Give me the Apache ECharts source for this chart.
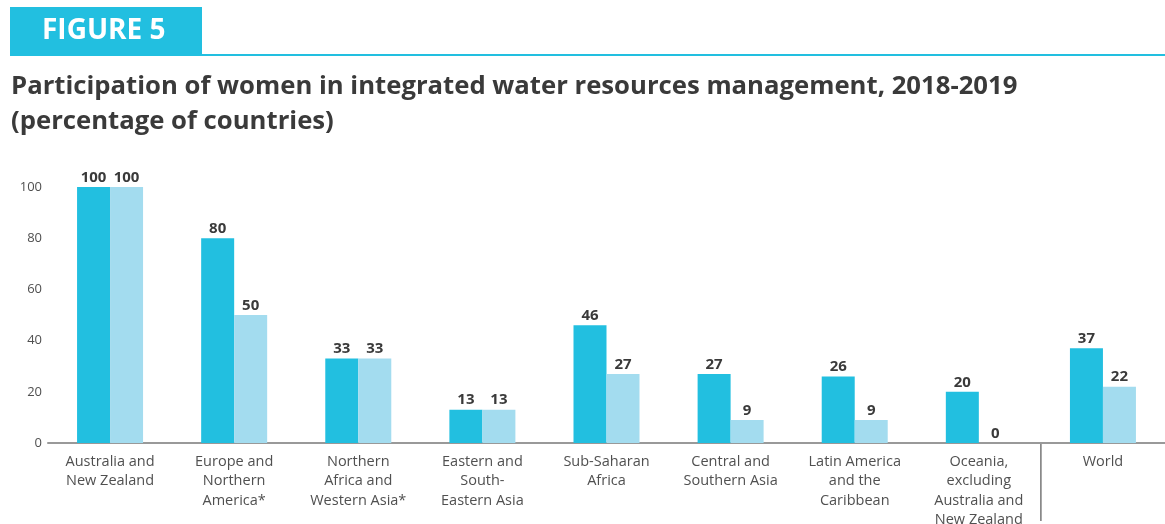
<!DOCTYPE html>
<html>
<head>
<meta charset="utf-8">
<script src="https://cdn.jsdelivr.net/npm/echarts@6/dist/echarts.min.js"></script>
<style>
    html, body {margin: 0; padding: 0; background: #fff;}
    #chart {width: 1165px; height: 524px;}
</style>
</head>
<body>
<div id="chart"></div>
<script>
const categories = [
    'Australia and\nNew Zealand',
    'Europe and\nNorthern\nAmerica*',
    'Northern\nAfrica and\nWestern Asia*',
    'Eastern and\nSouth-\nEastern Asia',
    'Sub-Saharan\nAfrica',
    'Central and\nSouthern Asia',
    'Latin America\nand the\nCaribbean',
    'Oceania,\nexcluding\nAustralia and\nNew Zealand',
    'World'
];
const values_2018 = [100, 80, 33, 13, 46, 27, 26, 20, 37];
const values_2019 = [100, 50, 33, 13, 27, 9, 9, 0, 22];
const y_ticks = [0, 20, 40, 60, 80, 100];

const dark_blue = '#22bfe0';
const light_blue = '#a3dcef';
const font = 'Open Sans';

function gen_bar_series(name, data, color) {
    return {
        name: name,
        type: 'bar',
        data: data,
        barWidth: 33,
        barGap: '0%',
        itemStyle: {color: color},
        label: {
            show: true,
            position: 'top',
            distance: 2,
            color: '#3a3a3a',
            fontFamily: font,
            fontWeight: 'bold',
            fontSize: 15
        }
    };
}

function header_graphics(extra) {
    return [
        {type: 'rect', shape: {x: 10, y: 7, width: 192, height: 47}, style: {fill: dark_blue}},
        {type: 'rect', shape: {x: 10, y: 54, width: 1155, height: 2}, style: {fill: dark_blue}},
        {
            type: 'text', left: 42, top: 17,
            style: {text: 'FIGURE 5', fill: '#fff', font: 'bold 28px "Open Sans"'}
        }
    ].concat(extra);
}

let chart = echarts.init(document.getElementById('chart'), null, {renderer: 'canvas'});

let option = {
    animation: false,
    title: {
        text: 'Participation of women in integrated water resources management, 2018-2019\n(percentage of countries)',
        left: 6,
        top: 64,
        textStyle: {
            color: '#3a3a3a',
            fontFamily: font,
            fontWeight: 'bold',
            fontSize: 25.7,
            lineHeight: 35
        }
    },
    graphic: header_graphics([]),
    grid: {left: 48, right: 0, top: 187, bottom: 81, outerBoundsMode: 'none', containLabel: false},
    xAxis: {
        type: 'category',
        data: categories,
        axisLine: {lineStyle: {color: '#999', width: 2}},
        axisTick: {show: false},
        axisLabel: {
            interval: 0,
            margin: 9,
            color: '#505050',
            fontFamily: font,
            fontSize: 14.5,
            lineHeight: 19.5
        }
    },
    yAxis: {
        type: 'value',
        min: y_ticks[0],
        max: y_ticks[y_ticks.length - 1],
        interval: 20,
        axisLine: {show: false},
        axisTick: {show: false},
        splitLine: {show: false},
        axisLabel: {
            margin: 6,
            color: '#505050',
            fontFamily: font,
            fontSize: 13
        }
    },
    series: [
        gen_bar_series('2018', values_2018, dark_blue),
        gen_bar_series('2019', values_2019, light_blue)
    ]
};

chart.setOption(option);

// divider between the regions and World
let x_last = chart.convertToPixel({xAxisIndex: 0}, categories[categories.length - 1]);
let x_prev = chart.convertToPixel({xAxisIndex: 0}, categories[categories.length - 2]);
let y_zero = chart.convertToPixel({yAxisIndex: 0}, 0);
let x_div = (x_last + x_prev) / 2;
chart.setOption({
    graphic: header_graphics([{
        type: 'line',
        shape: {x1: x_div, y1: y_zero, x2: x_div, y2: y_zero + 78},
        style: {stroke: '#777', lineWidth: 1.5}
    }])
});
</script>
</body>
</html>
